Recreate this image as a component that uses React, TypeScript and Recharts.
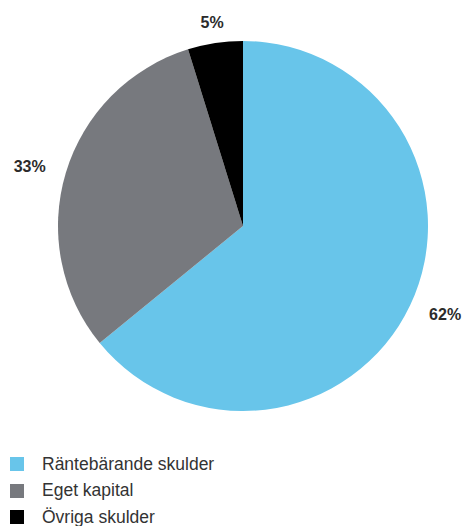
import { PieChart, Pie, Cell, Legend } from "recharts";

const categories = ["Räntebärande skulder", "Eget kapital", "Övriga skulder"];
const values = [64.1, 31.1, 4.8];
const labels = ["62%", "33%", "5%"];
const colors = ["#68C5EA", "#77797E", "#000000"];

const data = categories.map((name, i) => ({ name, value: values[i], label: labels[i] }));

const RADIAN = Math.PI / 180;

function renderLabel(props: any) {
  const { cx, cy, midAngle, outerRadius, index } = props;
  const r = outerRadius + 21;
  const cos = Math.cos(-midAngle * RADIAN);
  const sin = Math.sin(-midAngle * RADIAN);
  const x = cx + r * cos;
  const y = cy + r * sin;
  const anchor = Math.abs(cos) < 0.3 ? "middle" : cos > 0 ? "start" : "end";
  return (
    <text
      x={x}
      y={y}
      textAnchor={anchor}
      dominantBaseline="central"
      fill="#2b2b2b"
      fontSize={16}
      fontWeight="bold"
      fontFamily="Liberation Sans, Arial, sans-serif"
    >
      {labels[index]}
    </text>
  );
}

function LegendContent() {
  return (
    <div style={{ fontFamily: "Liberation Sans, Arial, sans-serif" }}>
      {categories.map((c, i) => (
        <div key={c} style={{ display: "flex", alignItems: "center", height: 26.5 }}>
          <span style={{ width: 14, height: 14, background: colors[i], display: "inline-block" }} />
          <span style={{ marginLeft: 18, fontSize: 17.5, color: "#333" }}>{c}</span>
        </div>
      ))}
    </div>
  );
}

export default function App() {
  return (
    <div style={{ position: "absolute", left: 0, top: 0, width: 473, height: 526, background: "#fff" }}>
      <PieChart width={473} height={526} margin={{ top: 0, right: 0, bottom: 0, left: 0 }}>
        <Pie
          data={data}
          dataKey="value"
          cx={243}
          cy={226}
          outerRadius={185}
          startAngle={90}
          endAngle={-270}
          stroke="none"
          label={renderLabel}
          labelLine={false}
          isAnimationActive={false}
        >
          {data.map((d, i) => (
            <Cell key={d.name} fill={colors[i]} />
          ))}
        </Pie>
        <Legend
          content={<LegendContent />}
          wrapperStyle={{ position: "absolute", left: 10, top: 451, width: 300 }}
        />
      </PieChart>
    </div>
  );
}
